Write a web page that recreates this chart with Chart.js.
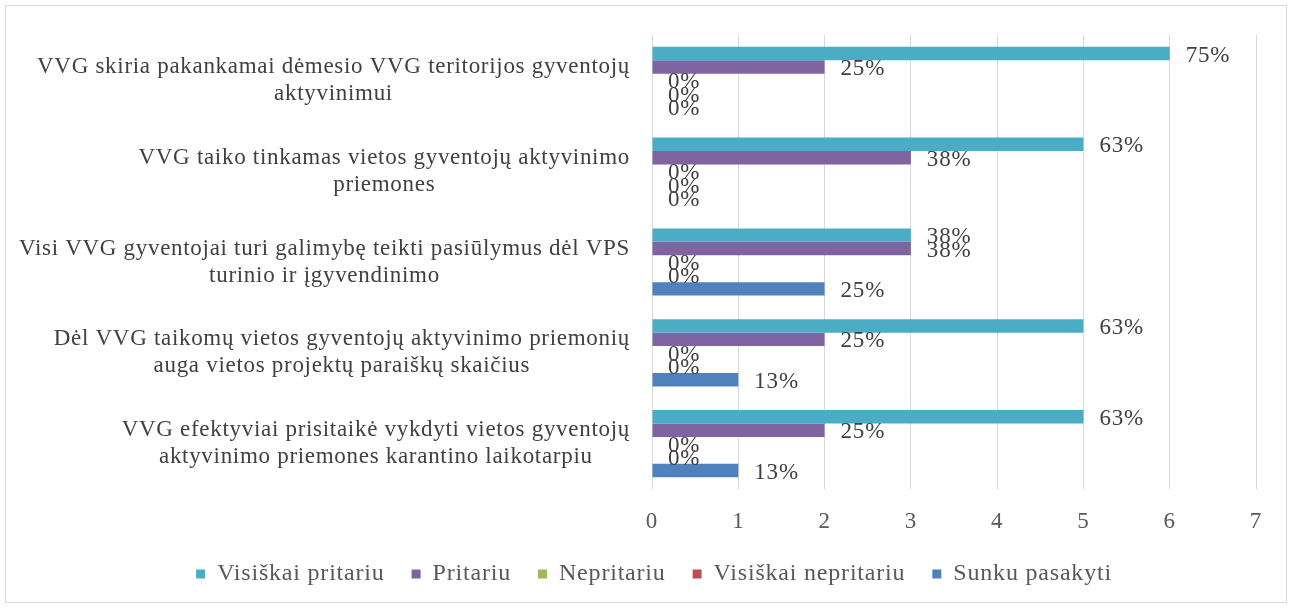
<!DOCTYPE html>
<html>
<head>
<meta charset="utf-8">
<script src="https://cdn.jsdelivr.net/npm/chart.js@4"></script>
<style>
    html, body { margin: 0; padding: 0; background: #fff; }
    #wrap { width: 1292px; height: 608px; position: relative; }
</style>
</head>
<body>
<div id="wrap"><canvas id="chart" width="1292" height="608"></canvas></div>
<script>
const categories = [
    ['VVG skiria pakankamai dėmesio VVG teritorijos gyventojų', 'aktyvinimui'],
    ['VVG taiko tinkamas vietos gyventojų aktyvinimo', 'priemones'],
    ['Visi VVG gyventojai turi galimybę teikti pasiūlymus dėl VPS', 'turinio ir įgyvendinimo'],
    ['Dėl VVG taikomų vietos gyventojų aktyvinimo priemonių', 'auga vietos projektų paraiškų skaičius'],
    ['VVG efektyviai prisitaikė vykdyti vietos gyventojų', 'aktyvinimo priemones karantino laikotarpiu']
];

const seriesNames = ['Visiškai pritariu', 'Pritariu', 'Nepritariu', 'Visiškai nepritariu', 'Sunku pasakyti'];
const seriesColors = ['#4BACC6', '#8064A2', '#9BBB59', '#C0504D', '#4F81BD'];

// counts (of 8 answers)
const visiskaiPritariu = [6, 5, 3, 5, 5];
const pritariu = [2, 3, 3, 2, 2];
const nepritariu = [0, 0, 0, 0, 0];
const visiskaiNepritariu = [0, 0, 0, 0, 0];
const sunkuPasakyti = [0, 0, 2, 1, 1];

// labels shown next to bars
const pctVisiskaiPritariu = ['75%', '63%', '38%', '63%', '63%'];
const pctPritariu = ['25%', '38%', '38%', '25%', '25%'];
const pctNepritariu = ['0%', '0%', '0%', '0%', '0%'];
const pctVisiskaiNepritariu = ['0%', '0%', '0%', '0%', '0%'];
const pctSunkuPasakyti = ['0%', '0%', '25%', '13%', '13%'];

const xTicks = [0, 1, 2, 3, 4, 5, 6, 7];

const seriesValues = [visiskaiPritariu, pritariu, nepritariu, visiskaiNepritariu, sunkuPasakyti];
const seriesPct = [pctVisiskaiPritariu, pctPritariu, pctNepritariu, pctVisiskaiNepritariu, pctSunkuPasakyti];

const FONT = '"Liberation Serif", serif';

// a bit of letter spacing so the Times-like font gets closer to the wider original
const spacing = {
    id: 'spacing',
    beforeUpdate(chart) { chart.ctx.letterSpacing = '0.8px'; },
    beforeDraw(chart) { chart.ctx.letterSpacing = '0.8px'; }
};

const frame = {
    id: 'frame',
    beforeDraw(chart) {
        const c = chart.ctx;
        c.save();
        c.fillStyle = '#fff';
        c.fillRect(0, 0, chart.width, chart.height);
        c.strokeStyle = '#d9d9d9';
        c.lineWidth = 1;
        c.strokeRect(5.5, 5.5, chart.width - 11, chart.height - 11);
        c.restore();
    }
};

// category labels: block right aligned, lines centred in the block
const catLabels = {
    id: 'catLabels',
    afterDraw(chart) {
        const c = chart.ctx;
        const y = chart.scales.y;
        const right = chart.chartArea.left - 22;
        c.save();
        c.font = '23px ' + FONT;
        c.letterSpacing = '0.7px';
        c.fillStyle = '#404040';
        c.textAlign = 'center';
        c.textBaseline = 'middle';
        categories.forEach((lines, i) => {
            const w = Math.max(...lines.map(l => c.measureText(l).width));
            const cx = right - w / 2;
            const cy = y.getPixelForTick(i);
            const lh = 27;
            lines.forEach((l, k) => {
                c.fillText(l, cx, cy + (k - (lines.length - 1) / 2) * lh);
            });
        });
        c.restore();
    }
};

const barLabels = {
    id: 'barLabels',
    afterDatasetsDraw(chart) {
        const c = chart.ctx;
        c.save();
        c.font = '23px ' + FONT;
        c.letterSpacing = '0.8px';
        c.fillStyle = '#404040';
        c.textAlign = 'left';
        c.textBaseline = 'middle';
        chart.data.datasets.forEach((ds, d) => {
            const meta = chart.getDatasetMeta(d);
            meta.data.forEach((el, i) => {
                c.fillText(seriesPct[d][i], el.x + 16, el.y + 2);
            });
        });
        c.restore();
    }
};

new Chart(document.getElementById('chart'), {
    type: 'bar',
    data: {
        labels: categories,
        datasets: seriesNames.map((name, i) => ({
            label: name,
            data: seriesValues[i],
            backgroundColor: seriesColors[i],
            borderWidth: 0,
            barPercentage: 1,
            categoryPercentage: 0.74
        }))
    },
    options: {
        indexAxis: 'y',
        responsive: false,
        animation: false,
        layout: {
            padding: { left: 52, right: 36, top: 35, bottom: 12 }
        },
        plugins: {
            legend: {
                position: 'bottom',
                labels: {
                    boxWidth: 9,
                    boxHeight: 9,
                    padding: 27,
                    color: '#595959',
                    font: { family: FONT, size: 24 }
                }
            },
            tooltip: { enabled: false }
        },
        scales: {
            x: {
                min: 0,
                max: 7,
                afterBuildTicks: axis => { axis.ticks = xTicks.map(v => ({ value: v })); },
                afterFit: axis => { axis.height = 46; },
                grid: { color: '#d9d9d9', drawTicks: false },
                border: { display: false },
                ticks: {
                    padding: 19,
                    color: '#595959',
                    font: { family: FONT, size: 23 }
                }
            },
            y: {
                afterFit: axis => { axis.width = 600; },
                grid: { display: false },
                border: { display: false },
                ticks: { color: 'rgba(0,0,0,0)', font: { size: 1 } }
            }
        }
    },
    plugins: [spacing, frame, catLabels, barLabels]
});
</script>
</body>
</html>
